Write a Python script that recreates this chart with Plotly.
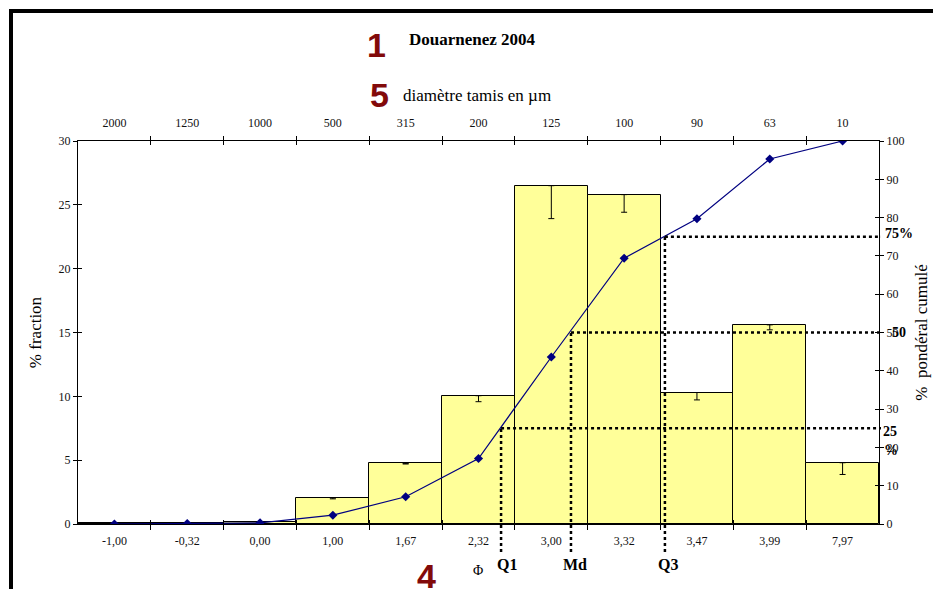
import plotly.graph_objects as go

# ---------------- data ----------------
phi_labels = ["-1,00", "-0,32", "0,00", "1,00", "1,67", "2,32", "3,00", "3,32", "3,47", "3,99", "7,97"]
um_labels = ["2000", "1250", "1000", "500", "315", "200", "125", "100", "90", "63", "10"]
fraction = [0.05, 0.1, 0.15, 2.05, 4.75, 10.05, 26.5, 25.8, 10.3, 15.6, 4.8]
fraction_err_minus = [0.0, 0.0, 0.0, 0.08, 0.05, 0.47, 2.58, 1.38, 0.58, 0.39, 0.92]
cumulative = [0.0, 0.1, 0.3, 2.3, 7.1, 17.1, 43.6, 69.4, 79.7, 95.3, 100.0]
quartile_names = ["Q1", "Md", "Q3"]
quartile_pos = [5.31, 6.27, 7.56]        # position on the phi category axis
quartile_pct = [25, 50, 75]              # cumulative %

# ---------------- geometry ----------------
W, H = 933, 589
L, R, T, B = 78, 54, 141, 65
PW, PH = W - L - R, H - T - B
N = len(phi_labels)
idx = list(range(N))
bounds = [i + 0.5 for i in range(N - 1)]


def px2x(px):
    return (px - L) / PW


def px2y(py):
    return 1 - (py - T) / PH


def data2px(xd):
    return (xd + 0.5) / N


SERIF = "Liberation Serif, Times New Roman, serif"
TICKFONT = dict(family=SERIF, size=12, color="#111111")

fig = go.Figure()

fig.add_trace(go.Bar(
    x=idx, y=fraction, width=1.0,
    marker=dict(color="#FFFF99", line=dict(color="black", width=1)),
    error_y=dict(type="data", symmetric=False,
                 array=[0] * N, arrayminus=fraction_err_minus,
                 color="black", thickness=1, width=3),
    xaxis="x", yaxis="y", showlegend=False, hoverinfo="skip",
))

fig.add_trace(go.Scatter(
    x=idx, y=cumulative, mode="lines+markers",
    line=dict(color="#000080", width=1.2),
    marker=dict(symbol="diamond", size=7, color="#000080"),
    xaxis="x", yaxis="y2", showlegend=False, hoverinfo="skip",
))

# dummy traces so that helper axes are drawn
for xa, ya in [("x2", "y"), ("x3", "y"), ("x4", "y"), ("x5", "y"), ("x6", "y"), ("x", "y3"), ("x", "y4")]:
    fig.add_trace(go.Scatter(x=[None], y=[None], xaxis=xa, yaxis=ya,
                             showlegend=False, hoverinfo="skip"))

xr = [-0.5, N - 0.5]
common_x = dict(range=xr, showgrid=False, zeroline=False, fixedrange=True, automargin=False)

layout = dict(
    width=W, height=H,
    margin=dict(l=L, r=R, t=T, b=B, pad=0, autoexpand=False),
    paper_bgcolor="white", plot_bgcolor="white",
    bargap=0, showlegend=False,
    font=dict(family=SERIF, color="black"),
    xaxis=dict(**common_x, tickmode="array", tickvals=idx, ticktext=phi_labels,
               ticks="", showline=True, linecolor="black", linewidth=1,
               tickfont=TICKFONT, ticklabelstandoff=6, anchor="y", side="bottom"),
    xaxis2=dict(**common_x, tickmode="array", tickvals=idx, ticktext=um_labels,
                ticks="", showline=True, linecolor="black", linewidth=1,
                tickfont=TICKFONT, ticklabelstandoff=8, overlaying="x", anchor="y", side="top"),
    xaxis3=dict(**common_x, tickmode="array", tickvals=bounds, ticks="outside", ticklen=5,
                tickcolor="black", showticklabels=False, showline=False,
                overlaying="x", anchor="y", side="bottom"),
    xaxis4=dict(**common_x, tickmode="array", tickvals=bounds, ticks="inside", ticklen=4,
                tickcolor="black", showticklabels=False, showline=False,
                overlaying="x", anchor="y", side="bottom"),
    xaxis5=dict(**common_x, tickmode="array", tickvals=bounds, ticks="outside", ticklen=4,
                tickcolor="black", showticklabels=False, showline=False,
                overlaying="x", anchor="y", side="top"),
    xaxis6=dict(**common_x, tickmode="array", tickvals=bounds, ticks="inside", ticklen=4,
                tickcolor="black", showticklabels=False, showline=False,
                overlaying="x", anchor="y", side="top"),
    yaxis=dict(range=[0, 30], dtick=5, tick0=0, ticks="outside", ticklen=4, tickcolor="black",
               showline=True, linecolor="black", linewidth=1, showgrid=False, zeroline=False,
               tickfont=TICKFONT, fixedrange=True, automargin=False,
               title=dict(text="% fraction", font=dict(family=SERIF, size=17), standoff=12)),
    yaxis3=dict(range=[0, 30], dtick=5, tick0=0, ticks="inside", ticklen=4, tickcolor="black",
                showline=False, showgrid=False, zeroline=False, showticklabels=False,
                overlaying="y", side="left", anchor="x", fixedrange=True, automargin=False),
    yaxis2=dict(range=[0, 100], dtick=10, tick0=0, ticks="outside", ticklen=4, tickcolor="black",
                showline=True, linecolor="black", linewidth=1, showgrid=False, zeroline=False,
                tickfont=TICKFONT, overlaying="y", side="right", anchor="x", fixedrange=True,
                automargin=False,
                title=dict(text="%  pondéral cumulé", font=dict(family=SERIF, size=17), standoff=11)),
    yaxis4=dict(range=[0, 100], dtick=10, tick0=0, ticks="inside", ticklen=4, tickcolor="black",
                showline=False, showgrid=False, zeroline=False, showticklabels=False,
                overlaying="y", side="right", anchor="x", fixedrange=True, automargin=False),
)
fig.update_layout(**layout)

# ---------------- quartile dotted lines ----------------
shapes = []
dot = dict(color="black", width=2.5, dash="dot")
y_bottom_ext = px2y(552)
for q, p in zip(quartile_pos, quartile_pct):
    xp = data2px(q)
    yp = p / 100.0
    shapes.append(dict(type="line", xref="paper", yref="paper", x0=xp, x1=xp,
                       y0=y_bottom_ext, y1=yp, line=dot, layer="above"))
    shapes.append(dict(type="line", xref="paper", yref="paper", x0=xp, x1=px2x(881),
                       y0=yp, y1=yp, line=dot, layer="above"))

# thick frame on top and left
shapes.append(dict(type="line", xref="paper", yref="paper", x0=px2x(9), x1=px2x(945),
                   y0=px2y(11), y1=px2y(11), line=dict(color="black", width=4)))
shapes.append(dict(type="line", xref="paper", yref="paper", x0=px2x(11), x1=px2x(11),
                   y0=px2y(9), y1=px2y(600), line=dict(color="black", width=4)))
fig.update_layout(shapes=shapes)

# ---------------- annotations ----------------
RED = "#820A0A"
BIG = dict(family="Liberation Sans, Arial, sans-serif", size=34, color=RED)


def ann(text, px, py, font, xanchor="center"):
    return dict(text=text, x=px2x(px), y=px2y(py), xref="paper", yref="paper",
                showarrow=False, xanchor=xanchor, yanchor="middle", font=font)


annotations = [
    ann("<b>Douarnenez 2004</b>", 472.5, 39, dict(family=SERIF, size=17, color="black")),
    ann("diamètre tamis en µm", 477, 95, dict(family=SERIF, size=17, color="black")),
    ann("<b>1</b>", 376.5, 45.5, BIG),
    ann("<b>5</b>", 379, 94.5, BIG),
    ann("<b>4</b>", 426.5, 576, BIG),
    ann("Φ", 478, 570, dict(family=SERIF, size=14, color="black")),
]
q_label_px = [507, 575, 668]
for name, qx in zip(quartile_names, q_label_px):
    annotations.append(ann("<b>%s</b>" % name, qx, 564, dict(family=SERIF, size=16, color="black")))

pct_labels = [("<b>75%</b>", 899, 233), ("<b>50</b>", 899, 332), ("<b>25</b>", 890, 431), ("<b>%</b>", 891, 450)]
for t, lx, ly in pct_labels:
    annotations.append(ann(t, lx, ly, dict(family=SERIF, size=14, color="black")))
fig.update_layout(annotations=annotations)

fig.write_html("out.html", config={"displayModeBar": False},
               post_script="document.body.style.margin='0px';document.body.style.padding='0px';")
